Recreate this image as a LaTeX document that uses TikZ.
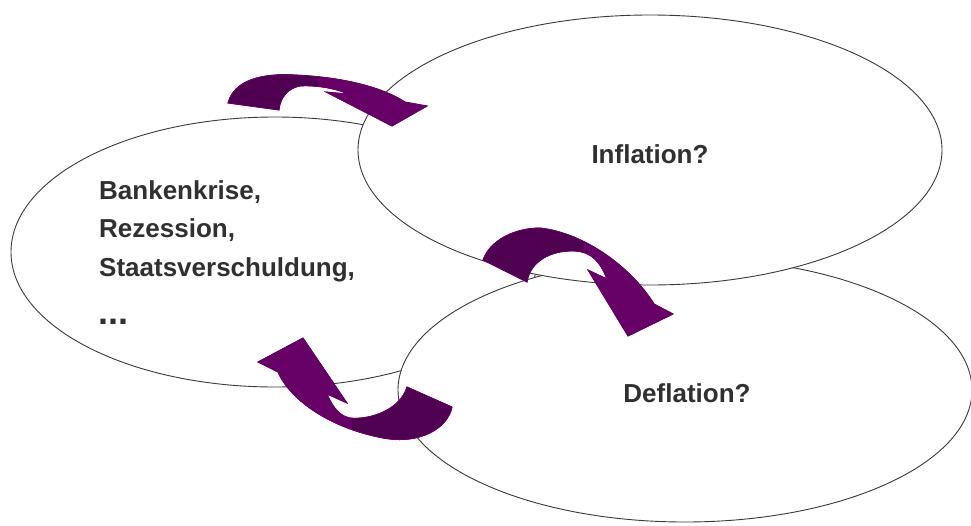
\documentclass[tikz,border=0pt]{standalone}
\usepackage{fontspec}
\setmainfont{Liberation Sans}
\usetikzlibrary{shapes.geometric}
\definecolor{arrlight}{HTML}{660066}
\definecolor{arrdark}{HTML}{500050}
\definecolor{txt}{HTML}{303030}
\definecolor{edge}{HTML}{3A3A3A}
\begin{document}
\begin{tikzpicture}[x=1pt,y=-1pt,
  bubble/.style={ellipse, draw=edge, line width=0.9pt, fill=white, inner sep=0pt},
  lbl/.style={font=\fontsize{26}{31}\selectfont\bfseries, text=txt, inner sep=0pt},
  swoosh/.style={fill=arrlight, draw=arrlight, line width=0.8pt, line join=miter}]
\useasboundingbox (0,0) rectangle (971,525);
% ellipses (drawn in stacking order)
\node[bubble, minimum width=528pt, minimum height=270pt] (krise) at (275,252) {};
\node[bubble, minimum width=574pt, minimum height=264pt] (defl) at (685,390) {};
\node[bubble, minimum width=584pt, minimum height=270pt] (infl) at (650,150) {};
% texts
\node[lbl, anchor=base west] (t1) at (99,199) {Bankenkrise,};
\node[lbl, anchor=base west] (t2) at (99,237) {Rezession,};
\node[lbl, anchor=base west] (t3) at (99,276) {Staatsverschuldung,};
\node[lbl, anchor=base west, font=\fontsize{36}{40}\selectfont\bfseries] (t4) at (98,324) {...};
\node[lbl, anchor=base] (tinf) at (650,163) {Inflation?};
\node[lbl, anchor=base] (tdef) at (687,402) {Deflation?};
% arrow 1 (left ellipse -> inflation)
\path[save path=\pA] (228,103) .. controls (234,80) and (262,73) .. (295,75)
  .. controls (340,77) and (380,86) .. (405,102) -- (427,106) -- (392,126)
  -- (326,92) -- (348,94) .. controls (335,88) and (315,85) .. (300,86)
  .. controls (288,88) and (280,98) .. (279,110) -- cycle;
\path[swoosh, use path=\pA];
\begin{scope}
  \clip (200,60) rectangle (318,120);
  \path[fill=arrdark, use path=\pA];
\end{scope}
\path[draw=arrlight, line width=0.8pt, use path=\pA];
% arrow 2 (inflation -> deflation)
\path[save path=\pB] (483,260) .. controls (490,240) and (515,228) .. (540,228)
  .. controls (585,233) and (632,268) .. (654,304) -- (673,314) -- (628,336)
  -- (588,270) -- (607,279) .. controls (600,262) and (592,252) .. (575,251)
  .. controls (550,250) and (530,262) .. (527,282) -- cycle;
\path[swoosh, use path=\pB];
\begin{scope}
  \clip (470,215) rectangle (584,300);
  \path[fill=arrdark, use path=\pB];
\end{scope}
\path[draw=arrlight, line width=0.8pt, use path=\pB];
% arrow 3 (deflation -> left ellipse)
\path[save path=\pC] (407,387) .. controls (400,410) and (370,420) .. (350,418)
  .. controls (340,416) and (333,408) .. (327,394) -- (347,403) -- (303,338)
  -- (258,362) -- (278,372) .. controls (290,400) and (330,428) .. (383,438)
  .. controls (420,445) and (448,428) .. (452,407) -- cycle;
\path[swoosh, use path=\pC];
\begin{scope}
  \clip (352,380) rectangle (470,460);
  \path[fill=arrdark, use path=\pC];
\end{scope}
\path[draw=arrlight, line width=0.8pt, use path=\pC];
\end{tikzpicture}
\end{document}
